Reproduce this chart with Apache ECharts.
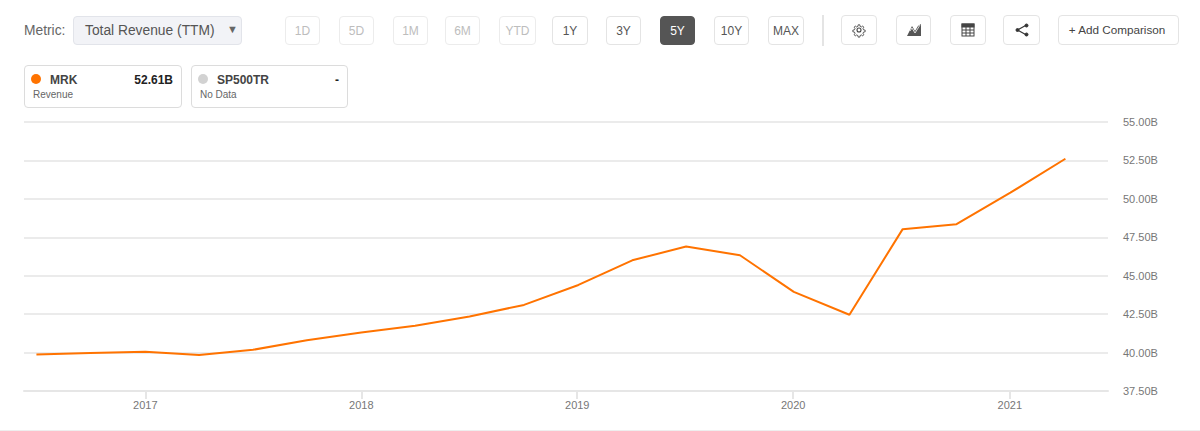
<!DOCTYPE html>
<html>
<head>
<meta charset="utf-8">
<title>MRK Total Revenue (TTM)</title>
<script src="https://cdn.jsdelivr.net/npm/echarts@6/dist/echarts.min.js"></script>
<style>
html, body { margin: 0; padding: 0; background: #fff; }
body { width: 1200px; height: 431px; position: relative; overflow: hidden; font-family: "Liberation Sans", Arial, sans-serif; }
#main { position: absolute; left: 0; top: 0; width: 1200px; height: 431px; }
.box { position: absolute; box-sizing: border-box; border: 1px solid #e4e4e4; border-radius: 4px; background: #fff; text-align: center; }
.btn { top: 16px; height: 29px; line-height: 28px; font-size: 12px; color: #555; }
.off { color: #bdbdbd; border-color: #ececec; }
.on { background: #555; border-color: #555; color: #fff; }
.tool { top: 15px; height: 30px; }
.tool svg { display: block; margin: 6px auto 0; }
.lbl { position: absolute; white-space: nowrap; }
.card { top: 65px; height: 43px; border-color: #dcdcdc; }
.dot { position: absolute; top: 8px; left: 6px; width: 10px; height: 10px; border-radius: 50%; }
.name { position: absolute; top: 7px; left: 25px; font-size: 12px; font-weight: bold; color: #444; }
.val { position: absolute; top: 7px; right: 8px; font-size: 12px; font-weight: bold; color: #222; }
.sub { position: absolute; top: 23px; left: 8px; font-size: 10px; color: #666; }
</style>
</head>
<body>
<div id="main"></div>
<div class="lbl" style="left:24px;top:23px;font-size:13.8px;color:#666">Metric:</div>
<div class="box" style="left:73px;top:16px;width:169px;height:29px;background:#f2f3f7;border-color:#e2e4ea">
    <span class="lbl" style="left:11px;top:6px;font-size:13.8px;color:#555">Total Revenue (TTM)</span>
    <span class="lbl" style="left:153px;top:6px;font-size:11px;color:#666">&#9660;</span>
</div>
<div id="buttons"></div>
<div style="position:absolute;left:822px;top:15px;width:2px;height:31px;background:#e4e4e4"></div>
<div class="box tool" style="left:841px;width:36px">
    <svg width="16" height="16" viewBox="0 0 16 16" fill="none" stroke="#444" stroke-width="1.1"><circle cx="8" cy="8" r="2"/><path d="M7 1.5h2l.4 2 1.6.7 1.7-1.1 1.4 1.4-1.1 1.7.7 1.6 2 .4v2l-2 .4-.7 1.6 1.1 1.7-1.4 1.4-1.7-1.1-1.6.7-.4 2H7l-.4-2-1.6-.7-1.7 1.1-1.4-1.4 1.1-1.7-.7-1.6-2-.4v-2l2-.4.7-1.6-1.1-1.7 1.4-1.4 1.7 1.1 1.6-.7z" transform="translate(1.6 1.6) scale(.8)"/></svg>
</div>
<div class="box tool" style="left:896px;width:35px">
    <svg width="16" height="16" viewBox="0 0 16 16"><path d="M1 14 6 4l3 5 3-5 3-2v12z" fill="#555"/><path d="M4 9 6 6l3 5 5-8" fill="none" stroke="#fff" stroke-width=".8"/></svg>
</div>
<div class="box tool" style="left:950px;width:36px">
    <svg width="16" height="16" viewBox="0 0 16 16" fill="none" stroke="#444"><rect x="2" y="2" width="12" height="12"/><rect x="2" y="2" width="12" height="3" fill="#444"/><path d="M6 5v9M10 5v9M2 8h12M2 11h12"/></svg>
</div>
<div class="box tool" style="left:1003px;width:37px">
    <svg width="16" height="16" viewBox="0 0 16 16" fill="#333" stroke="#333"><path d="M12.5 3 3.500 8l9 5" fill="none" stroke-width="1.2"/><circle cx="12.500" cy="3.500" r="1.500"/><circle cx="3.500" cy="8" r="1.500"/><circle cx="12.500" cy="12.500" r="1.500"/></svg>
</div>
<div class="box tool" style="left:1058px;width:121px;line-height:28px;font-size:11.7px;color:#444;padding-right:3px">+ Add Comparison</div>
<div class="box card" style="left:24px;width:158px">
    <span class="dot" style="background:#ff7300"></span><span class="name">MRK</span><span class="val">52.61B</span>
    <span class="sub">Revenue</span>
</div>
<div class="box card" style="left:191px;width:157px">
    <span class="dot" style="background:#d2d2d2"></span><span class="name">SP500TR</span><span class="val">-</span>
    <span class="sub">No Data</span>
</div>
<div style="position:absolute;left:0;top:430px;width:1200px;height:1px;background:#eee"></div>
<script type="text/javascript">
var rangeNames = ['1D', '5D', '1M', '6M', 'YTD', '1Y', '3Y', '5Y', '10Y', 'MAX'];
var rangeLefts = [285, 339, 393, 445, 499, 552, 606, 660, 714, 768];
var rangeWidths = [35, 35, 35, 35, 37, 36, 35, 35, 35, 36];

// dates as plotted in the picture, a few days off the quarter ends
var dates = ['2016-07-01', '2016-09-30', '2017-01-01', '2017-04-02', '2017-07-02', '2017-10-01', '2018-01-01',
    '2018-04-02', '2018-07-03', '2018-10-03', '2019-01-03', '2019-04-04', '2019-07-04', '2019-10-03', '2020-01-02',
    '2020-04-05', '2020-07-04', '2020-10-03', '2021-01-02', '2021-04-05'];
var revenue = [39.87, 39.98, 40.06, 39.84, 40.18, 40.80, 41.30, 41.75, 42.35, 43.10, 44.40, 46.00, 46.90, 46.33,
    43.95, 42.46, 48.03, 48.35, 50.40, 52.61];
var yearTicks = ['2017-01-01', '2018-01-01', '2019-01-01', '2020-01-01', '2021-01-01'];

var html = '';
for (var i = 0; i < rangeNames.length; i++) {
    var cls = i < 5 ? ' off' : (rangeNames[i] == '5Y' ? ' on' : '');
    html += '<div class="box btn' + cls + '" style="left:' + rangeLefts[i] + 'px;width:' + rangeWidths[i] + 'px">' + rangeNames[i] + '</div>';
}
document.getElementById('buttons').innerHTML = html;

// numeric axis on timestamps, the time axis chokes on customValues
var tickTimes = yearTicks.map(function (d) { return Date.parse(d + 'T00:00:00Z'); });
var points = dates.map(function (d, i) { return [Date.parse(d + 'T00:00:00Z'), revenue[i]]; });

var myChart = echarts.init(document.getElementById('main'), null, { renderer: 'svg' });
var option = {
    animation: false,
    grid: { left: 24, right: 92, top: 122, bottom: 40 },
    textStyle: { fontFamily: '"Liberation Sans", Arial, sans-serif' },
    xAxis: {
        type: 'value',
        min: Date.parse('2016-06-10T00:00:00Z'),
        max: Date.parse('2021-06-16T00:00:00Z'),
        axisLine: { lineStyle: { color: '#e6e6e6', width: 2 } },
        axisTick: { customValues: tickTimes, length: 8, lineStyle: { color: '#e6e6e6', width: 2 } },
        axisLabel: {
            customValues: tickTimes,
            color: '#777',
            fontSize: 11,
            margin: 8,
            formatter: function (v) { return String(new Date(v).getUTCFullYear()); }
        },
        splitLine: { show: false }
    },
    yAxis: {
        type: 'value',
        position: 'right',
        min: 37.5,
        max: 55,
        interval: 2.5,
        axisLine: { show: false },
        axisTick: { show: false },
        axisLabel: {
            color: '#777',
            fontSize: 11,
            margin: 15,
            formatter: function (v) { return v.toFixed(2) + 'B'; }
        },
        splitLine: { lineStyle: { color: '#ebebeb', width: 2 } }
    },
    series: [{
        name: 'MRK',
        type: 'line',
        data: points,
        showSymbol: false,
        smooth: false,
        lineStyle: { color: '#ff7300', width: 2 },
        itemStyle: { color: '#ff7300' }
    }]
};
myChart.setOption(option);
</script>
</body>
</html>
